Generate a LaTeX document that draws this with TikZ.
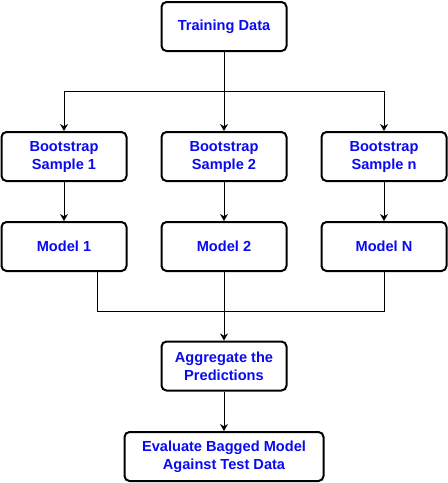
\documentclass[tikz,border=0pt]{standalone}
\usepackage{fontspec}
\setmainfont{Liberation Sans}
\usetikzlibrary{arrows.meta}
\definecolor{txtblue}{RGB}{10,10,240}
\begin{document}
\begin{tikzpicture}[x=1pt,y=-1pt]
\tikzstyle{blk}=[draw, rounded corners=5pt, line width=2pt, minimum width=125pt, minimum height=49pt, align=center, font=\fontsize{14.6}{18}\selectfont\bfseries, text=txtblue, inner sep=2pt]
\tikzstyle{arr}=[-{Stealth[length=7pt,width=8pt]}, line width=0.9pt]
\useasboundingbox (0,0) rectangle (448,483);
\node[blk] (train) at (224,26.5) {Training Data};
\foreach \i/\x/\t/\m in {1/64/1/1, 2/224/2/2, 3/384/n/N}{
	\node[blk] (boot\i) at (\x,156.5) {Bootstrap\\Sample \t};
	\node[blk] (model\i) at (\x,246.5) {Model \m};
	\draw[arr] (boot\i) -- (model\i);}
\node[blk] (aggr) at (224,366) {Aggregate the\\Predictions};
\node[blk, minimum width=199pt] (eval) at (224,456.5) {Evaluate Bagged Model\\Against Test Data};
\coordinate (split) at (224,91);
\coordinate (join) at (224,311);
\draw[line width=0.9pt] (train) -- (split);
\draw[arr] (split) -| (boot1);
\draw[arr] (split) -- (boot2);
\draw[arr] (split) -| (boot3);
\draw[line width=0.9pt] ([xshift=33pt]model1.south) |- (join);
\draw[line width=0.9pt] (model3) |- (join);
\draw[arr] (model2) -- (aggr);
\draw[arr] (aggr) -- (eval);
\end{tikzpicture}
\end{document}
